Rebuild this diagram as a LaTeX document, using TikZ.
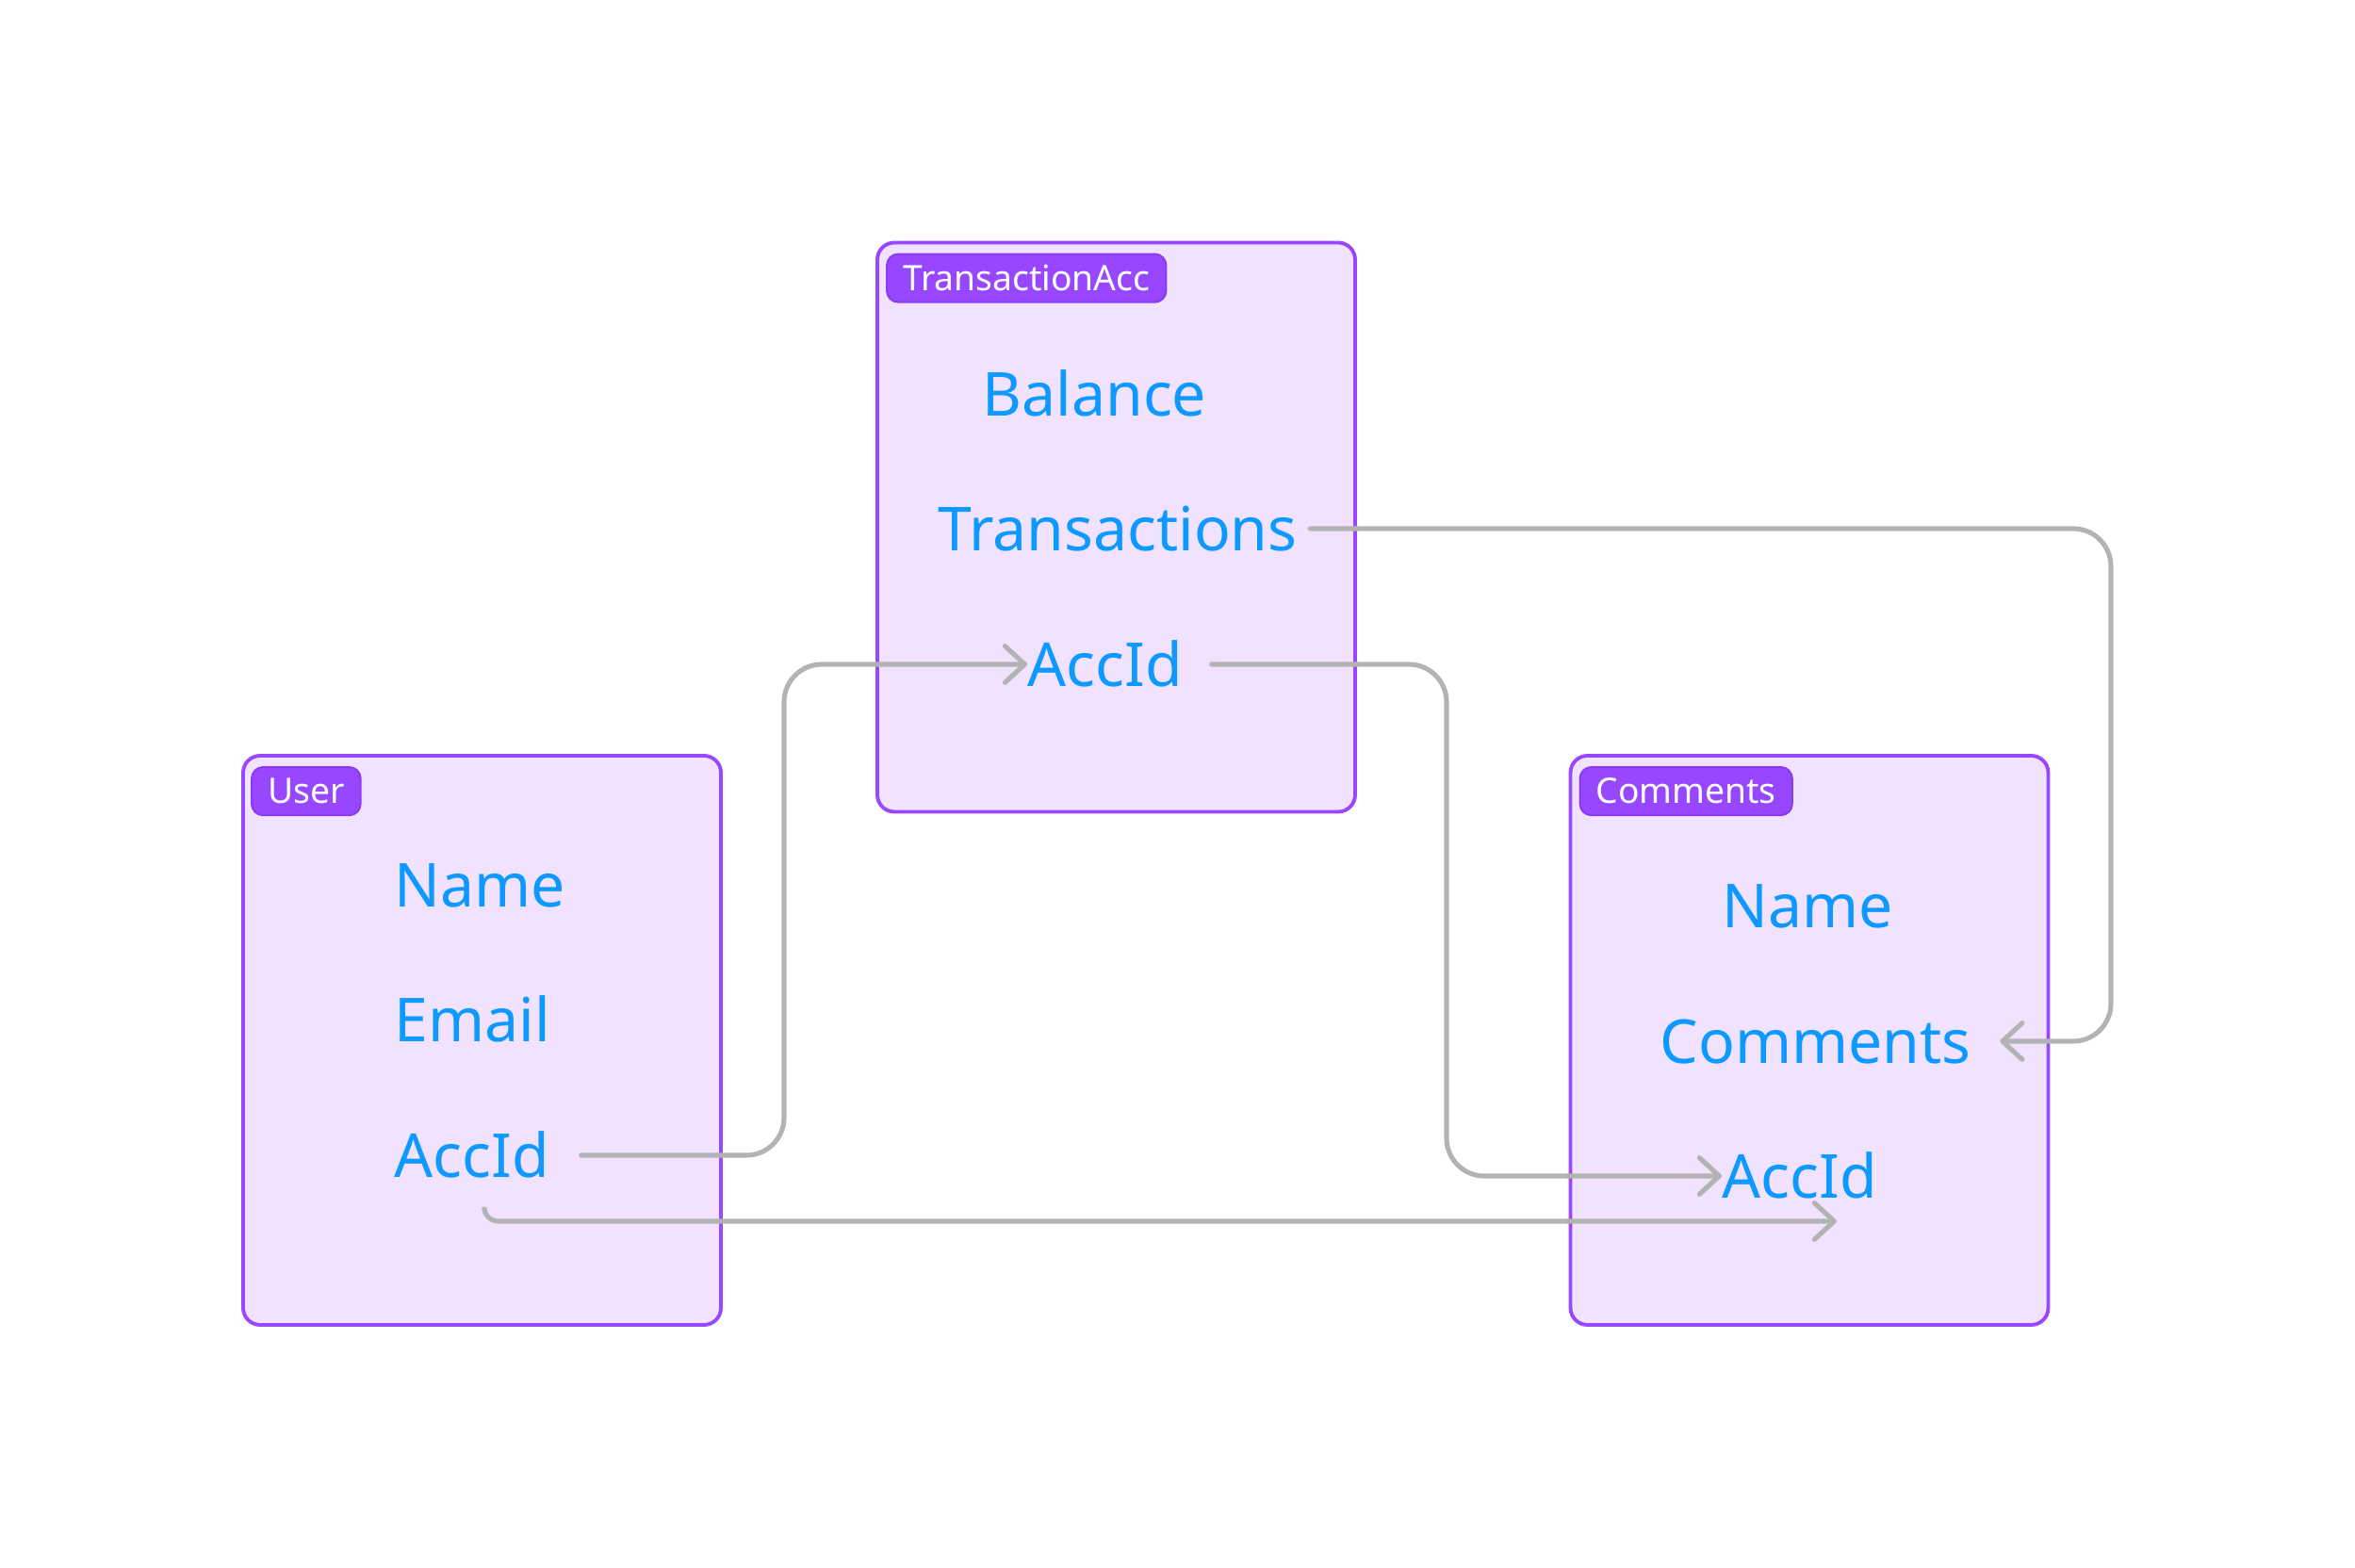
\documentclass[tikz,border=0pt]{standalone}
\usepackage{fontspec}
\setmainfont{Noto Sans}
\usetikzlibrary{arrows.meta}

\definecolor{figpurple}{HTML}{9747FF}
\definecolor{figpurpledark}{HTML}{8A3CF0}
\definecolor{figlilac}{HTML}{F1E3FF}
\definecolor{figblue}{HTML}{0D99FF}
\definecolor{linkgray}{HTML}{B3B3B3}

\tikzset{
  tablebox/.style={draw=figpurple, fill=figlilac, line width=1.1pt, rounded corners=0.18cm,
    minimum width=5.07cm, minimum height=6.04cm, inner sep=0pt},
  tabletag/.style={draw=figpurpledark, fill=figpurple, text=white, rounded corners=0.12cm,
    line width=0.6pt, inner xsep=0.17cm, inner ysep=0pt, minimum height=0.51cm,
    anchor=north west, font=\fontsize{10.6}{12}\selectfont},
  field/.style={text=figblue, anchor=west, inner sep=0pt, text height=0.47cm, text depth=0pt,
    font=\fontsize{18.3}{22}\selectfont},
  link/.style={draw=linkgray, line width=1.45pt, rounded corners=0.4cm, line cap=round,
    -{Straight Barb[length=6pt, width=11pt, round]}},
}

\begin{document}
\begin{tikzpicture}
    \useasboundingbox (0,0) rectangle (24.99,-16.64);

    % --- Routing columns ---
    \coordinate (colA) at (8.32,0);
    \coordinate (colB) at (15.35,0);
    \coordinate (colC) at (22.40,0);

    % --- Tables ---
    \node[tablebox] (user) at (5.115,-11.04) {};
    \node[tablebox] (ta)   at (11.845,-5.595) {};
    \node[tablebox] (cm)   at (19.20,-11.04) {};

    % --- Tags ---
    \node[tabletag] (user-tag) at ([xshift=0.10cm, yshift=-0.13cm]user.north west) {User};
    \node[tabletag] (ta-tag)   at ([xshift=0.11cm, yshift=-0.13cm]ta.north west) {TransactionAcc};
    \node[tabletag] (cm-tag)   at ([xshift=0.11cm, yshift=-0.13cm]cm.north west) {Comments};

    % --- Fields ---
    \node[field] (u-name)  at (4.18,-9.39)  {Name};
    \node[field] (u-email) at (4.18,-10.82) {Email};
    \node[field] (u-acc)   at (4.18,-12.26) {AccId};

    \node[field] (ta-bal)   at (10.42,-4.18) {Balance};
    \node[field] (ta-trans) at (9.95,-5.61)  {Transactions};
    \node[field] (ta-acc)   at (10.90,-7.05) {AccId};

    \node[field] (cm-name) at (18.27,-9.61)  {Name};
    \node[field] (cm-comm) at (17.61,-11.05) {Comments};
    \node[field] (cm-acc)  at (18.27,-12.48) {AccId};

    % --- Links ---
    \draw[link] ([xshift=0.33cm]u-acc.east) -- (colA |- u-acc) -- (colA |- ta-acc) -- (ta-acc.west);
    \draw[link, rounded corners=0.15cm] ([xshift=0.13cm, yshift=-0.32cm]u-acc.south)
        |- ([xshift=1.22cm, yshift=-0.48cm]cm-acc.west);
    \draw[link] ([xshift=0.30cm]ta-acc.east) -- (colB |- ta-acc) -- (colB |- cm-acc) -- (cm-acc.west);
    \draw[link] ([xshift=0.13cm]ta-trans.east) -- (colC |- ta-trans) -- (colC |- cm-comm)
        -- ([xshift=0.30cm]cm-comm.east);

\end{tikzpicture}
\end{document}
